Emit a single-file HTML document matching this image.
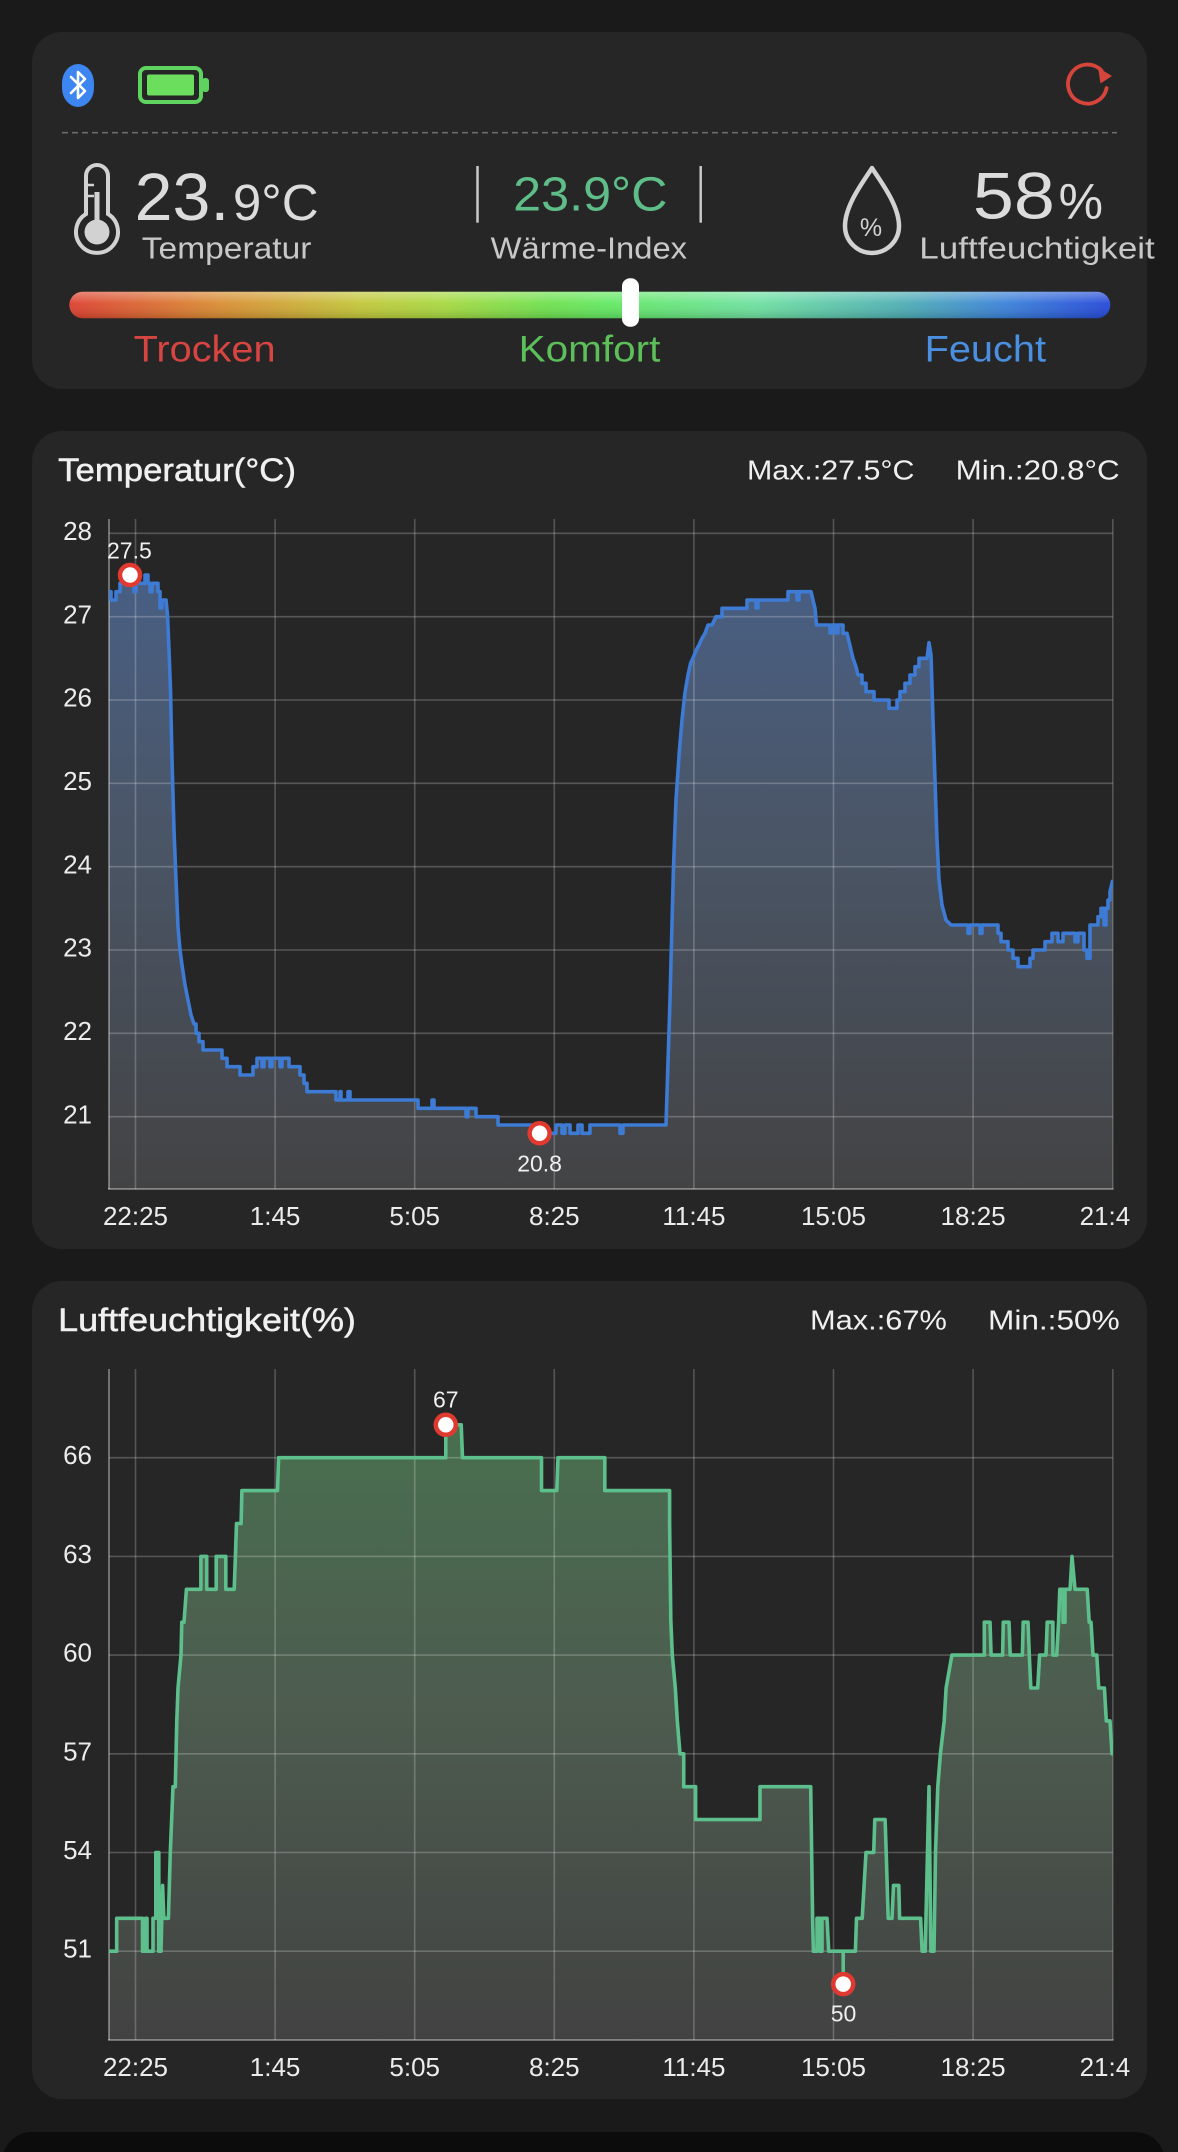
<!DOCTYPE html>
<html>
<head>
<meta charset="utf-8">
<style>
  html,body{margin:0;padding:0;background:#1a1a1a;}
  svg{display:block;}
  text{font-family:"Liberation Sans", Arial, sans-serif;}
</style>
</head>
<body>
<svg width="1178" height="2152" viewBox="0 0 1178 2152" xmlns="http://www.w3.org/2000/svg">
  <defs>
    <linearGradient id="bar" x1="69" y1="0" x2="1110" y2="0" gradientUnits="userSpaceOnUse">
      <stop offset="0" stop-color="#dc4030"/>
      <stop offset="0.14" stop-color="#d98a32"/>
      <stop offset="0.28" stop-color="#c2c63a"/>
      <stop offset="0.36" stop-color="#a6d840"/>
      <stop offset="0.46" stop-color="#6ee04e"/>
      <stop offset="0.52" stop-color="#62e862"/>
      <stop offset="0.66" stop-color="#6ee0a0"/>
      <stop offset="0.80" stop-color="#4eaeb4"/>
      <stop offset="0.90" stop-color="#3a80d8"/>
      <stop offset="1" stop-color="#2448d8"/>
    </linearGradient>
    <linearGradient id="gloss" x1="0" y1="292" x2="0" y2="318" gradientUnits="userSpaceOnUse">
      <stop offset="0" stop-color="#ffffff" stop-opacity="0.35"/>
      <stop offset="0.45" stop-color="#ffffff" stop-opacity="0.05"/>
      <stop offset="1" stop-color="#000000" stop-opacity="0.15"/>
    </linearGradient>
    <linearGradient id="tfill" x1="0" y1="519" x2="0" y2="1189" gradientUnits="userSpaceOnUse">
      <stop offset="0" stop-color="#48618a"/>
      <stop offset="0.45" stop-color="#4a5668"/>
      <stop offset="1" stop-color="#434344"/>
    </linearGradient>
    <linearGradient id="hfill" x1="0" y1="1369" x2="0" y2="2040" gradientUnits="userSpaceOnUse">
      <stop offset="0" stop-color="#48734f"/>
      <stop offset="0.5" stop-color="#4d5c4f"/>
      <stop offset="1" stop-color="#424242"/>
    </linearGradient>
    <clipPath id="tclip"><rect x="109" y="500" width="1004" height="689"/></clipPath>
    <clipPath id="hclip"><rect x="109" y="1350" width="1004" height="690"/></clipPath>
  </defs>

  <rect x="0" y="0" width="1178" height="2152" fill="#1a1a1a"/>

  <!-- ================= TOP CARD ================= -->
  <rect x="32" y="32" width="1115" height="357" rx="30" fill="#262626"/>

  <!-- bluetooth -->
  <rect x="62" y="64" width="32" height="43" rx="16" ry="19" fill="#3d85f0"/>
  <path d="M71,77 L85,91 L78,98 L78,72 L85,79 L71,93" fill="none" stroke="#ffffff" stroke-width="2.6" stroke-linejoin="round" stroke-linecap="round"/>

  <!-- battery -->
  <rect x="140" y="68" width="61" height="34" rx="6" fill="none" stroke="#5fd35f" stroke-width="4"/>
  <rect x="147" y="74.5" width="47" height="21" rx="2" fill="#6cde5e"/>
  <rect x="202" y="78" width="7" height="14" rx="3" fill="#5fd35f"/>

  <!-- refresh -->
  <path d="M1106.6,88.1 A19.5,19.5 0 1 1 1101.5,70.5" fill="none" stroke="#d5453b" stroke-width="3.8" stroke-linecap="round"/>
  <path d="M1098,67.5 L1112,76 L1100.5,83.5 Z" fill="#d5453b"/>

  <!-- dashed line -->
  <line x1="62" y1="132.7" x2="1117" y2="132.7" stroke="#6a6a6a" stroke-width="1.6" stroke-dasharray="6,4"/>

  <!-- thermometer -->
  <path d="M86,176 A11,11 0 0 1 108,176 L108,214 A21,21 0 1 1 86,214 Z" fill="none" stroke="#d2d2d2" stroke-width="4"/>
  <circle cx="97" cy="232" r="12.5" fill="#d2d2d2"/>
  <rect x="94.5" y="192" width="5" height="40" fill="#d2d2d2"/>
  <line x1="88" y1="185" x2="94" y2="185" stroke="#d2d2d2" stroke-width="2.5"/>
  <line x1="88" y1="196" x2="94" y2="196" stroke="#d2d2d2" stroke-width="2.5"/>

  <text x="134.6" y="220" font-size="67" fill="#dcdcdc" textLength="94.7" lengthAdjust="spacingAndGlyphs">23.</text>
  <text x="232.9" y="220" font-size="51" fill="#dcdcdc" textLength="85.7" lengthAdjust="spacingAndGlyphs">9°C</text>
  <text x="141.8" y="258.3" font-size="31" fill="#c8c8c8" textLength="169.6" lengthAdjust="spacingAndGlyphs">Temperatur</text>

  <line x1="477.5" y1="166" x2="477.5" y2="222.7" stroke="#c8c8c8" stroke-width="2.5"/>
  <line x1="700.7" y1="166" x2="700.7" y2="222.7" stroke="#c8c8c8" stroke-width="2.5"/>
  <text x="513.2" y="210.7" font-size="48" fill="#5fbd88" textLength="154.3" lengthAdjust="spacingAndGlyphs">23.9°C</text>
  <text x="490.7" y="258.3" font-size="31" fill="#c8c8c8" textLength="196.3" lengthAdjust="spacingAndGlyphs">Wärme-Index</text>

  <!-- drop -->
  <path d="M872,168 C866,178 845,204 845,226 A27,27 0 0 0 899,226 C899,204 878,178 872,168 Z" fill="none" stroke="#d2d2d2" stroke-width="4.5" stroke-linejoin="round"/>
  <text x="871" y="236" font-size="25" fill="#d2d2d2" text-anchor="middle">%</text>

  <text x="972.9" y="218.3" font-size="66" fill="#dcdcdc" textLength="82" lengthAdjust="spacingAndGlyphs">58</text>
  <text x="1058.6" y="218.3" font-size="50" fill="#dcdcdc" textLength="44.4" lengthAdjust="spacingAndGlyphs">%</text>
  <text x="919.3" y="258.3" font-size="31" fill="#c8c8c8" textLength="235.5" lengthAdjust="spacingAndGlyphs">Luftfeuchtigkeit</text>

  <!-- comfort bar -->
  <rect x="69.3" y="291.7" width="1041" height="26.6" rx="13.3" fill="url(#bar)"/>
  <rect x="69.3" y="291.7" width="1041" height="26.6" rx="13.3" fill="url(#gloss)"/>
  <rect x="622" y="278.3" width="17" height="48.4" rx="8" fill="#ffffff"/>

  <text x="133.6" y="361.7" font-size="37" fill="#d64541" textLength="142" lengthAdjust="spacingAndGlyphs">Trocken</text>
  <text x="518.6" y="361.7" font-size="37" fill="#5cbf5a" textLength="141.8" lengthAdjust="spacingAndGlyphs">Komfort</text>
  <text x="924.6" y="361.7" font-size="37" fill="#4a8fe0" textLength="121.4" lengthAdjust="spacingAndGlyphs">Feucht</text>

  <!-- ================= TEMPERATURE CARD ================= -->
  <rect x="32" y="431" width="1115" height="818" rx="30" fill="#262626"/>
  <text x="58.2" y="481" font-size="32" fill="#f0f0f0" stroke="#f0f0f0" stroke-width="0.5" textLength="237.7" lengthAdjust="spacingAndGlyphs">Temperatur(°C)</text>
  <text x="747" y="479.3" font-size="28" fill="#f0f0f0" textLength="167.5" lengthAdjust="spacingAndGlyphs">Max.:27.5°C</text>
  <text x="955.7" y="479.3" font-size="28" fill="#f0f0f0" textLength="164" lengthAdjust="spacingAndGlyphs">Min.:20.8°C</text>

  <!-- fill -->
  <g clip-path="url(#tclip)">
  <path fill="url(#tfill)" d="M109,591.7 L111,591.7 L111,600 L116,600 L116,591.7 L120,591.7 L120,583.3 L127,583.3 L127,575 L131,575 L131,583.3 L134,583.3 L134,591.7 L136,591.7 L136,583.3 L145,583.3 L145,575 L148,575 L148,583.3 L150,583.3 L150,591.7 L152,591.7 L152,583.3 L158,583.3 L158,591.7 L160,591.7 L160,608 L162,608 L162,600 L166,600 L167.5,615 L169,650 L170.5,690 L172,760 L174,830 L176,880 L178,927 L180,950 L182,965 L185,985 L188,1000 L191,1015 L194,1024 L196,1024 L196,1033.3 L199,1033.3 L199,1041.7 L203,1041.7 L203,1050 L222,1050 L222,1058.3 L227,1058.3 L227,1066.7 L240,1066.7 L240,1075 L253,1075 L253,1066.7 L257,1066.7 L257,1058.3 L262,1058.3 L262,1066.7 L264,1066.7 L264,1058.3 L270,1058.3 L270,1066.7 L272,1066.7 L272,1058.3 L280,1058.3 L280,1066.7 L282,1066.7 L282,1058.3 L289,1058.3 L289,1066.7 L300,1066.7 L300,1075 L304,1075 L304,1083.3 L307,1083.3 L307,1091.7 L336,1091.7 L336,1100 L340,1100 L340,1091.7 L341,1091.7 L341,1100 L348,1100 L348,1091.7 L350,1091.7 L350,1100 L418,1100 L418,1108.3 L432,1108.3 L432,1100 L434,1100 L434,1108.3 L466,1108.3 L466,1116.7 L468,1116.7 L468,1108.3 L476,1108.3 L476,1116.7 L498,1116.7 L498,1125 L540,1125 L540,1133.3 L556,1133.3 L556,1125 L562,1125 L562,1133.3 L565,1133.3 L565,1125 L570,1125 L570,1133.3 L578,1133.3 L578,1125 L582,1125 L582,1133.3 L590,1133.3 L590,1125 L620,1125 L620,1133.3 L623,1133.3 L623,1125 L666,1125 L670,1000 L673.4,870 L676,800 L679.2,753.3 L682,720 L684.9,693.3 L688,675 L690.6,663.3 L693,658 L696.3,650 L699,645 L702,638.3 L705,633.3 L708,625 L712,625 L716,616.7 L722,616.7 L722,608.3 L747,608.3 L747,600 L756,600 L756,608 L758,608 L758,600 L788,600 L788,591.7 L797,591.7 L797,600 L799,600 L799,591.7 L811,591.7 L813,600 L815,608.3 L816.5,625 L830,625 L830,633 L832,633 L832,625 L836,625 L836,633 L838,633 L838,625 L843,625 L843,633.3 L847,633.3 L849,641.7 L851,650 L853,658.3 L856,666.7 L858,675 L862,675 L862,683.3 L866,683.3 L866,691.7 L874,691.7 L874,700 L889,700 L889,708.3 L897,708.3 L897,700 L900,700 L900,691.7 L905,691.7 L905,683.3 L910,683.3 L910,675 L915,675 L915,666.7 L919,666.7 L919,658.3 L927,658.3 L929,642.7 L931,655 L933,720 L935,780 L937,840 L939,880 L942,905 L946,920 L951,925 L968,925 L968,933.3 L970,933.3 L970,925 L980,925 L980,933.3 L982,933.3 L982,925 L998,925 L998,933.3 L1001,933.3 L1001,941.7 L1008,941.7 L1008,950 L1013,950 L1013,958.3 L1018,958.3 L1018,966.7 L1030,966.7 L1030,958.3 L1033,958.3 L1033,950 L1045,950 L1045,941.7 L1052,941.7 L1052,933.3 L1058,933.3 L1058,941.7 L1063,941.7 L1063,933.3 L1075,933.3 L1075,941.7 L1078,941.7 L1078,933.3 L1084,933.3 L1084,950 L1087,950 L1087,958.3 L1090,958.3 L1090,925 L1098,925 L1098,916.7 L1101,916.7 L1101,908.3 L1104,908.3 L1104,925 L1106,925 L1106,908.3 L1108,908.3 L1108,900 L1110,900 L1110,891.7 L1112.8,880 L1112.8,1189 L109,1189 Z"/>
  </g>

  <!-- grid -->
  <g stroke="#ffffff" stroke-opacity="0.22" stroke-width="1.6">
    <line x1="109" y1="533.3" x2="1112.8" y2="533.3"/>
    <line x1="109" y1="616.7" x2="1112.8" y2="616.7"/>
    <line x1="109" y1="700" x2="1112.8" y2="700"/>
    <line x1="109" y1="783.3" x2="1112.8" y2="783.3"/>
    <line x1="109" y1="866.7" x2="1112.8" y2="866.7"/>
    <line x1="109" y1="950" x2="1112.8" y2="950"/>
    <line x1="109" y1="1033.3" x2="1112.8" y2="1033.3"/>
    <line x1="109" y1="1116.7" x2="1112.8" y2="1116.7"/>
    <line x1="135.5" y1="519" x2="135.5" y2="1189"/>
    <line x1="275.1" y1="519" x2="275.1" y2="1189"/>
    <line x1="414.7" y1="519" x2="414.7" y2="1189"/>
    <line x1="554.3" y1="519" x2="554.3" y2="1189"/>
    <line x1="693.9" y1="519" x2="693.9" y2="1189"/>
    <line x1="833.5" y1="519" x2="833.5" y2="1189"/>
    <line x1="973.1" y1="519" x2="973.1" y2="1189"/>
    <line x1="1112.8" y1="519" x2="1112.8" y2="1189"/>
  </g>
  <g stroke="#ffffff" stroke-opacity="0.35" stroke-width="2">
    <line x1="109" y1="519" x2="109" y2="1189"/>
    <line x1="108" y1="1189" x2="1113.5" y2="1189"/>
  </g>

  <!-- line -->
  <g clip-path="url(#tclip)">
  <path fill="none" stroke="#3d7bd4" stroke-width="3.6" stroke-linejoin="round" d="M109,591.7 L111,591.7 L111,600 L116,600 L116,591.7 L120,591.7 L120,583.3 L127,583.3 L127,575 L131,575 L131,583.3 L134,583.3 L134,591.7 L136,591.7 L136,583.3 L145,583.3 L145,575 L148,575 L148,583.3 L150,583.3 L150,591.7 L152,591.7 L152,583.3 L158,583.3 L158,591.7 L160,591.7 L160,608 L162,608 L162,600 L166,600 L167.5,615 L169,650 L170.5,690 L172,760 L174,830 L176,880 L178,927 L180,950 L182,965 L185,985 L188,1000 L191,1015 L194,1024 L196,1024 L196,1033.3 L199,1033.3 L199,1041.7 L203,1041.7 L203,1050 L222,1050 L222,1058.3 L227,1058.3 L227,1066.7 L240,1066.7 L240,1075 L253,1075 L253,1066.7 L257,1066.7 L257,1058.3 L262,1058.3 L262,1066.7 L264,1066.7 L264,1058.3 L270,1058.3 L270,1066.7 L272,1066.7 L272,1058.3 L280,1058.3 L280,1066.7 L282,1066.7 L282,1058.3 L289,1058.3 L289,1066.7 L300,1066.7 L300,1075 L304,1075 L304,1083.3 L307,1083.3 L307,1091.7 L336,1091.7 L336,1100 L340,1100 L340,1091.7 L341,1091.7 L341,1100 L348,1100 L348,1091.7 L350,1091.7 L350,1100 L418,1100 L418,1108.3 L432,1108.3 L432,1100 L434,1100 L434,1108.3 L466,1108.3 L466,1116.7 L468,1116.7 L468,1108.3 L476,1108.3 L476,1116.7 L498,1116.7 L498,1125 L540,1125 L540,1133.3 L556,1133.3 L556,1125 L562,1125 L562,1133.3 L565,1133.3 L565,1125 L570,1125 L570,1133.3 L578,1133.3 L578,1125 L582,1125 L582,1133.3 L590,1133.3 L590,1125 L620,1125 L620,1133.3 L623,1133.3 L623,1125 L666,1125 L670,1000 L673.4,870 L676,800 L679.2,753.3 L682,720 L684.9,693.3 L688,675 L690.6,663.3 L693,658 L696.3,650 L699,645 L702,638.3 L705,633.3 L708,625 L712,625 L716,616.7 L722,616.7 L722,608.3 L747,608.3 L747,600 L756,600 L756,608 L758,608 L758,600 L788,600 L788,591.7 L797,591.7 L797,600 L799,600 L799,591.7 L811,591.7 L813,600 L815,608.3 L816.5,625 L830,625 L830,633 L832,633 L832,625 L836,625 L836,633 L838,633 L838,625 L843,625 L843,633.3 L847,633.3 L849,641.7 L851,650 L853,658.3 L856,666.7 L858,675 L862,675 L862,683.3 L866,683.3 L866,691.7 L874,691.7 L874,700 L889,700 L889,708.3 L897,708.3 L897,700 L900,700 L900,691.7 L905,691.7 L905,683.3 L910,683.3 L910,675 L915,675 L915,666.7 L919,666.7 L919,658.3 L927,658.3 L929,642.7 L931,655 L933,720 L935,780 L937,840 L939,880 L942,905 L946,920 L951,925 L968,925 L968,933.3 L970,933.3 L970,925 L980,925 L980,933.3 L982,933.3 L982,925 L998,925 L998,933.3 L1001,933.3 L1001,941.7 L1008,941.7 L1008,950 L1013,950 L1013,958.3 L1018,958.3 L1018,966.7 L1030,966.7 L1030,958.3 L1033,958.3 L1033,950 L1045,950 L1045,941.7 L1052,941.7 L1052,933.3 L1058,933.3 L1058,941.7 L1063,941.7 L1063,933.3 L1075,933.3 L1075,941.7 L1078,941.7 L1078,933.3 L1084,933.3 L1084,950 L1087,950 L1087,958.3 L1090,958.3 L1090,925 L1098,925 L1098,916.7 L1101,916.7 L1101,908.3 L1104,908.3 L1104,925 L1106,925 L1106,908.3 L1108,908.3 L1108,900 L1110,900 L1110,891.7 L1112.8,880"/>
  </g>

  <!-- markers -->
  <circle cx="130" cy="575" r="10" fill="#ffffff" stroke="#e0392f" stroke-width="4.5"/>
  <text x="129.4" y="558.3" font-size="23" fill="#f0f0f0" text-anchor="middle">27.5</text>
  <circle cx="539.6" cy="1133.3" r="10" fill="#ffffff" stroke="#e0392f" stroke-width="4.5"/>
  <text x="539.6" y="1171.7" font-size="23" fill="#f0f0f0" text-anchor="middle">20.8</text>

  <!-- y labels -->
  <g font-size="26" fill="#ececec" text-anchor="end">
    <text x="92" y="540">28</text>
    <text x="92" y="623.4">27</text>
    <text x="92" y="706.7">26</text>
    <text x="92" y="790">25</text>
    <text x="92" y="873.4">24</text>
    <text x="92" y="956.7">23</text>
    <text x="92" y="1040">22</text>
    <text x="92" y="1123.4">21</text>
  </g>
  <!-- x labels -->
  <g font-size="26" fill="#ececec" text-anchor="middle">
    <text x="135.5" y="1225">22:25</text>
    <text x="275.1" y="1225">1:45</text>
    <text x="414.7" y="1225">5:05</text>
    <text x="554.3" y="1225">8:25</text>
    <text x="693.9" y="1225">11:45</text>
    <text x="833.5" y="1225">15:05</text>
    <text x="973.1" y="1225">18:25</text>
  </g>
  <text x="1079.6" y="1225" font-size="26" fill="#ececec">21:4</text>

  <!-- ================= HUMIDITY CARD ================= -->
  <rect x="32" y="1281" width="1115" height="818" rx="30" fill="#262626"/>
  <text x="58.2" y="1331" font-size="32" fill="#f0f0f0" stroke="#f0f0f0" stroke-width="0.5" textLength="297.7" lengthAdjust="spacingAndGlyphs">Luftfeuchtigkeit(%)</text>
  <text x="810" y="1329.3" font-size="28" fill="#f0f0f0" textLength="136.9" lengthAdjust="spacingAndGlyphs">Max.:67%</text>
  <text x="988" y="1329.3" font-size="28" fill="#f0f0f0" textLength="131.7" lengthAdjust="spacingAndGlyphs">Min.:50%</text>

  <g clip-path="url(#hclip)">
  <path fill="url(#hfill)" d="M109,1951.2 L116.7,1951.2 L116.7,1918.3 L142.5,1918.3 L142.5,1951.2 L145.5,1951.2 L145.5,1918.3 L147,1918.3 L147,1951.2 L153,1951.2 L153,1918.3 L155.8,1918.3 L155.8,1852.5 L158.8,1852.5 L158.8,1951.2 L161,1951.2 L162.6,1885.4 L163.8,1918.3 L168.4,1918.3 L170.3,1852.5 L173,1786.7 L175.3,1786.7 L176.8,1720.9 L178,1688 L181,1655.1 L181.8,1622.2 L184,1622.2 L186.4,1589.3 L200.9,1589.3 L200.9,1556.4 L206.7,1556.4 L206.7,1589.3 L216.2,1589.3 L216.2,1556.4 L225.8,1556.4 L225.8,1589.3 L234.2,1589.3 L235.4,1556.4 L236.5,1523.5 L241.1,1523.5 L241.9,1490.6 L277.5,1490.6 L278.6,1457.7 L445.8,1457.7 L445.8,1424.8 L461.2,1424.8 L462.5,1457.7 L541.5,1457.7 L541.5,1490.6 L556.8,1490.6 L558,1457.7 L604.8,1457.7 L604.8,1490.6 L669.6,1490.6 L669.6,1523.5 L670.8,1620 L672.3,1655.1 L675.3,1688 L677.3,1720.9 L680,1753.8 L683.7,1753.8 L683.7,1786.7 L695.6,1786.7 L695.6,1819.6 L760,1819.6 L760,1786.7 L810.7,1786.7 L812.6,1918.3 L813.4,1951.2 L817,1951.2 L817,1918.3 L820,1918.3 L820,1951.2 L822,1951.2 L822,1918.3 L827,1918.3 L828.7,1951.2 L843.2,1951.2 L843.2,1984.1 L843.2,1951.2 L855.4,1951.2 L856.5,1918.3 L862.2,1918.3 L864.1,1885.4 L866,1852.5 L873.7,1852.5 L874.8,1819.6 L885.1,1819.6 L886.2,1852.5 L888.2,1918.3 L892,1918.3 L893.5,1885.4 L898.8,1885.4 L899.6,1918.3 L920.6,1918.3 L922.1,1951.2 L925.2,1951.2 L929,1786.7 L930.9,1951.2 L934,1951.2 L935.5,1852.5 L937.8,1786.7 L940.4,1753.8 L944.2,1720.9 L946.1,1688 L951.9,1655.1 L984.3,1655.1 L984.3,1622.2 L990,1622.2 L991.1,1655.1 L1002.6,1655.1 L1003.3,1622.2 L1009,1622.2 L1010.2,1655.1 L1022.4,1655.1 L1023.2,1622.2 L1028,1622.2 L1029.3,1655.1 L1030.8,1688 L1037.7,1688 L1039.6,1655.1 L1046,1655.1 L1047.2,1622.2 L1052.9,1622.2 L1052.9,1655.1 L1056.7,1655.1 L1058.6,1622.2 L1059.8,1589.3 L1063,1589.3 L1063,1622.2 L1065,1622.2 L1065,1589.3 L1070.1,1589.3 L1072,1556.4 L1075,1589.3 L1087.2,1589.3 L1089.2,1622.2 L1091,1622.2 L1093,1655.1 L1096.8,1655.1 L1098.7,1688 L1104.4,1688 L1106.3,1720.9 L1110,1720.9 L1112,1753.8 L1112.8,1753.8 L1112.8,2040 L109,2040 Z"/>
  </g>

  <g stroke="#ffffff" stroke-opacity="0.22" stroke-width="1.6">
    <line x1="109" y1="1457.7" x2="1112.8" y2="1457.7"/>
    <line x1="109" y1="1556.4" x2="1112.8" y2="1556.4"/>
    <line x1="109" y1="1655.1" x2="1112.8" y2="1655.1"/>
    <line x1="109" y1="1753.8" x2="1112.8" y2="1753.8"/>
    <line x1="109" y1="1852.5" x2="1112.8" y2="1852.5"/>
    <line x1="109" y1="1951.2" x2="1112.8" y2="1951.2"/>
    <line x1="135.5" y1="1369" x2="135.5" y2="2040"/>
    <line x1="275.1" y1="1369" x2="275.1" y2="2040"/>
    <line x1="414.7" y1="1369" x2="414.7" y2="2040"/>
    <line x1="554.3" y1="1369" x2="554.3" y2="2040"/>
    <line x1="693.9" y1="1369" x2="693.9" y2="2040"/>
    <line x1="833.5" y1="1369" x2="833.5" y2="2040"/>
    <line x1="973.1" y1="1369" x2="973.1" y2="2040"/>
    <line x1="1112.8" y1="1369" x2="1112.8" y2="2040"/>
  </g>
  <g stroke="#ffffff" stroke-opacity="0.35" stroke-width="2">
    <line x1="109" y1="1369" x2="109" y2="2040"/>
    <line x1="108" y1="2040" x2="1113.5" y2="2040"/>
  </g>

  <g clip-path="url(#hclip)">
  <path fill="none" stroke="#5dbf8b" stroke-width="3.6" stroke-linejoin="round" d="M109,1951.2 L116.7,1951.2 L116.7,1918.3 L142.5,1918.3 L142.5,1951.2 L145.5,1951.2 L145.5,1918.3 L147,1918.3 L147,1951.2 L153,1951.2 L153,1918.3 L155.8,1918.3 L155.8,1852.5 L158.8,1852.5 L158.8,1951.2 L161,1951.2 L162.6,1885.4 L163.8,1918.3 L168.4,1918.3 L170.3,1852.5 L173,1786.7 L175.3,1786.7 L176.8,1720.9 L178,1688 L181,1655.1 L181.8,1622.2 L184,1622.2 L186.4,1589.3 L200.9,1589.3 L200.9,1556.4 L206.7,1556.4 L206.7,1589.3 L216.2,1589.3 L216.2,1556.4 L225.8,1556.4 L225.8,1589.3 L234.2,1589.3 L235.4,1556.4 L236.5,1523.5 L241.1,1523.5 L241.9,1490.6 L277.5,1490.6 L278.6,1457.7 L445.8,1457.7 L445.8,1424.8 L461.2,1424.8 L462.5,1457.7 L541.5,1457.7 L541.5,1490.6 L556.8,1490.6 L558,1457.7 L604.8,1457.7 L604.8,1490.6 L669.6,1490.6 L669.6,1523.5 L670.8,1620 L672.3,1655.1 L675.3,1688 L677.3,1720.9 L680,1753.8 L683.7,1753.8 L683.7,1786.7 L695.6,1786.7 L695.6,1819.6 L760,1819.6 L760,1786.7 L810.7,1786.7 L812.6,1918.3 L813.4,1951.2 L817,1951.2 L817,1918.3 L820,1918.3 L820,1951.2 L822,1951.2 L822,1918.3 L827,1918.3 L828.7,1951.2 L843.2,1951.2 L843.2,1984.1 L843.2,1951.2 L855.4,1951.2 L856.5,1918.3 L862.2,1918.3 L864.1,1885.4 L866,1852.5 L873.7,1852.5 L874.8,1819.6 L885.1,1819.6 L886.2,1852.5 L888.2,1918.3 L892,1918.3 L893.5,1885.4 L898.8,1885.4 L899.6,1918.3 L920.6,1918.3 L922.1,1951.2 L925.2,1951.2 L929,1786.7 L930.9,1951.2 L934,1951.2 L935.5,1852.5 L937.8,1786.7 L940.4,1753.8 L944.2,1720.9 L946.1,1688 L951.9,1655.1 L984.3,1655.1 L984.3,1622.2 L990,1622.2 L991.1,1655.1 L1002.6,1655.1 L1003.3,1622.2 L1009,1622.2 L1010.2,1655.1 L1022.4,1655.1 L1023.2,1622.2 L1028,1622.2 L1029.3,1655.1 L1030.8,1688 L1037.7,1688 L1039.6,1655.1 L1046,1655.1 L1047.2,1622.2 L1052.9,1622.2 L1052.9,1655.1 L1056.7,1655.1 L1058.6,1622.2 L1059.8,1589.3 L1063,1589.3 L1063,1622.2 L1065,1622.2 L1065,1589.3 L1070.1,1589.3 L1072,1556.4 L1075,1589.3 L1087.2,1589.3 L1089.2,1622.2 L1091,1622.2 L1093,1655.1 L1096.8,1655.1 L1098.7,1688 L1104.4,1688 L1106.3,1720.9 L1110,1720.9 L1112,1753.8 L1112.8,1753.8"/>
  </g>

  <circle cx="445.8" cy="1424.8" r="10" fill="#ffffff" stroke="#e0392f" stroke-width="4.5"/>
  <text x="445.8" y="1407.7" font-size="23" fill="#f0f0f0" text-anchor="middle">67</text>
  <circle cx="843.2" cy="1984.1" r="10" fill="#ffffff" stroke="#e0392f" stroke-width="4.5"/>
  <text x="843.5" y="2021.7" font-size="23" fill="#f0f0f0" text-anchor="middle">50</text>

  <g font-size="26" fill="#ececec" text-anchor="end">
    <text x="92" y="1464.2">66</text>
    <text x="92" y="1562.9">63</text>
    <text x="92" y="1661.6">60</text>
    <text x="92" y="1760.3">57</text>
    <text x="92" y="1859">54</text>
    <text x="92" y="1957.7">51</text>
  </g>
  <g font-size="26" fill="#ececec" text-anchor="middle">
    <text x="135.5" y="2076">22:25</text>
    <text x="275.1" y="2076">1:45</text>
    <text x="414.7" y="2076">5:05</text>
    <text x="554.3" y="2076">8:25</text>
    <text x="693.9" y="2076">11:45</text>
    <text x="833.5" y="2076">15:05</text>
    <text x="973.1" y="2076">18:25</text>
  </g>
  <text x="1079.6" y="2076" font-size="26" fill="#ececec">21:4</text>

  <!-- bottom dark card -->
  <rect x="2" y="2132" width="1163" height="80" rx="30" fill="#0c0c0c"/>
</svg>
</body>
</html>
